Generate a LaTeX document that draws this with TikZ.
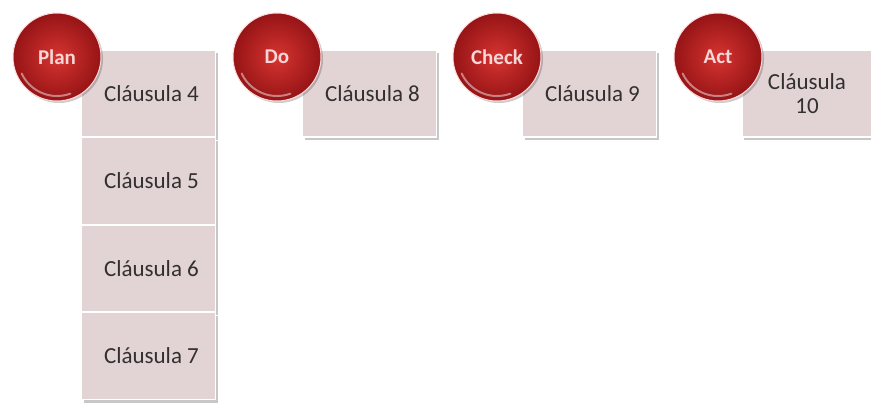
\documentclass[tikz,border=0pt]{standalone}
\usepackage{fontspec}
\setmainfont{Carlito}
\usetikzlibrary{shadows}
\definecolor{boxpink}{RGB}{226,211,213}
\definecolor{textgray}{RGB}{50,48,48}
\definecolor{redin}{RGB}{214,52,48}
\definecolor{redout}{RGB}{150,20,22}
\definecolor{phasetext}{RGB}{246,214,214}
\begin{document}
\begin{tikzpicture}[x=1pt,y=1pt,
  clause/.style={rectangle, draw=white, line width=1.6pt, fill=boxpink,
    minimum width=134pt, minimum height=87pt, inner sep=0pt, align=center,
    font=\fontsize{23}{24}\selectfont, text=textgray,
    drop shadow={shadow xshift=2pt, shadow yshift=-3pt, fill=black, opacity=0.22}},
  phase/.style={circle, minimum size=88pt, inner sep=0pt,
    inner color=redin, outer color=redout, draw=white!85!red, line width=1pt,
    font=\bfseries\fontsize{21}{23}\selectfont, text=phasetext,
    drop shadow={shadow xshift=2pt, shadow yshift=-2pt, fill=black, opacity=0.2}},
  gleam/.style={white, opacity=0.45, line width=2pt, line cap=round}
]
\useasboundingbox (0,0) rectangle (871,408);
% Plan column
\node[clause] (c4) at (148.5,314.5) {\hspace*{6pt}Cláusula 4};
\node[clause] (c5) at (148.5,227) {\hspace*{6pt}Cláusula 5};
\node[clause] (c6) at (148.5,139.5) {\hspace*{6pt}Cláusula 6};
\node[clause] (c7) at (148.5,52) {\hspace*{6pt}Cláusula 7};
% other boxes
\node[clause] (c8) at (369.5,314.5) {\hspace*{6pt}Cláusula 8};
\node[clause] (c9) at (589.5,314.5) {\hspace*{6pt}Cláusula 9};
\node[clause, minimum width=130pt] (c10) at (807,314.5) {Cláusula\\10};
% phase circles
\node[phase] (plan) at (57,351) {Plan};
\node[phase] (do) at (277,351) {Do};
\node[phase] (check) at (497,351) {Check};
\node[phase] (act) at (718,351) {Act};
\foreach \p in {plan,do,check,act}{
  \draw[gleam] ([shift={(205:39)}]\p.center) arc[start angle=205, end angle=290, radius=39];
}
\end{tikzpicture}
\end{document}
